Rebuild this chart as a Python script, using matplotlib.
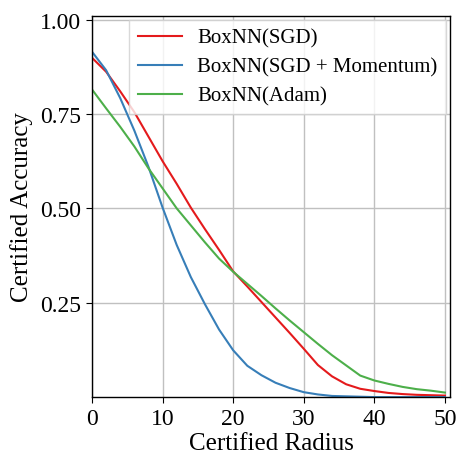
""" Certified accuracy against certified radius for BoxNN optimisers.
"""
import matplotlib
matplotlib.use('Agg')
import matplotlib.pyplot as plt

# Certified radius grid
RADIUS = [0, 2, 4, 6, 8, 10, 12, 14, 16, 18, 20, 22, 24, 26, 28, 30, 32,
          34, 36, 38, 40, 42, 44, 46, 48, 50]

# Certified accuracy per optimiser
ACC_SGD = [0.899, 0.862, 0.810, 0.755, 0.690, 0.625, 0.565, 0.502, 0.445,
           0.390, 0.333, 0.293, 0.252, 0.211, 0.170, 0.128, 0.085, 0.055,
           0.034, 0.022, 0.016, 0.011, 0.008, 0.006, 0.005, 0.004]
ACC_MOMENTUM = [0.915, 0.866, 0.792, 0.706, 0.610, 0.502, 0.403, 0.318,
                0.246, 0.179, 0.124, 0.083, 0.058, 0.038, 0.024, 0.013,
                0.007, 0.003, 0.002, 0.001, 0.0, 0.0, 0.0, 0.0, 0.0, 0.0]
ACC_ADAM = [0.815, 0.765, 0.716, 0.664, 0.606, 0.553, 0.500, 0.455, 0.410,
            0.367, 0.332, 0.300, 0.268, 0.235, 0.203, 0.172, 0.141, 0.111,
            0.084, 0.057, 0.044, 0.035, 0.027, 0.021, 0.017, 0.012]

LABELS = ['BoxNN(SGD)', 'BoxNN(SGD + Momentum)', 'BoxNN(Adam)']
COLORS = ['#e41a1c', '#377eb8', '#4daf4a']

plt.rcParams['font.family'] = ['Liberation Serif', 'DejaVu Serif']
plt.rcParams['mathtext.fontset'] = 'stix'

fig = plt.figure(figsize=(4.6, 4.56), dpi=100)
ax = fig.add_axes([0.2, 0.127, 0.778, 0.836])

for acc, label, color in zip([ACC_SGD, ACC_MOMENTUM, ACC_ADAM], LABELS, COLORS):
    ax.plot(RADIUS, acc, color=color, lw=1.5, label=label)

# Axes
ax.set_xlim(0, 50.7)
ax.set_ylim(0, 1.01)
ax.set_xticks([0, 10, 20, 30, 40, 50])
ax.set_yticks([0.25, 0.50, 0.75, 1.00])
ax.set_yticklabels(['0.25', '0.50', '0.75', '1.00'])
ax.set_xlabel('Certified Radius', fontsize=18, labelpad=2)
ax.set_ylabel('Certified Accuracy', fontsize=18, labelpad=5)
ax.tick_params(labelsize=17, direction='out', length=4, pad=4)
ax.grid(True, color='#c0c0c0', lw=1.0)
ax.set_axisbelow(True)
for spine in ax.spines.values():
    spine.set_color('black')
    spine.set_linewidth(1.0)

# Legend in the upper right corner
ax.legend(loc='upper right', fontsize=15, handlelength=2.1,
          handletextpad=0.75, labelspacing=0.45, borderaxespad=0.2,
          fancybox=False, edgecolor='#d0d0d0')

plt.savefig('out.png', dpi=100)
